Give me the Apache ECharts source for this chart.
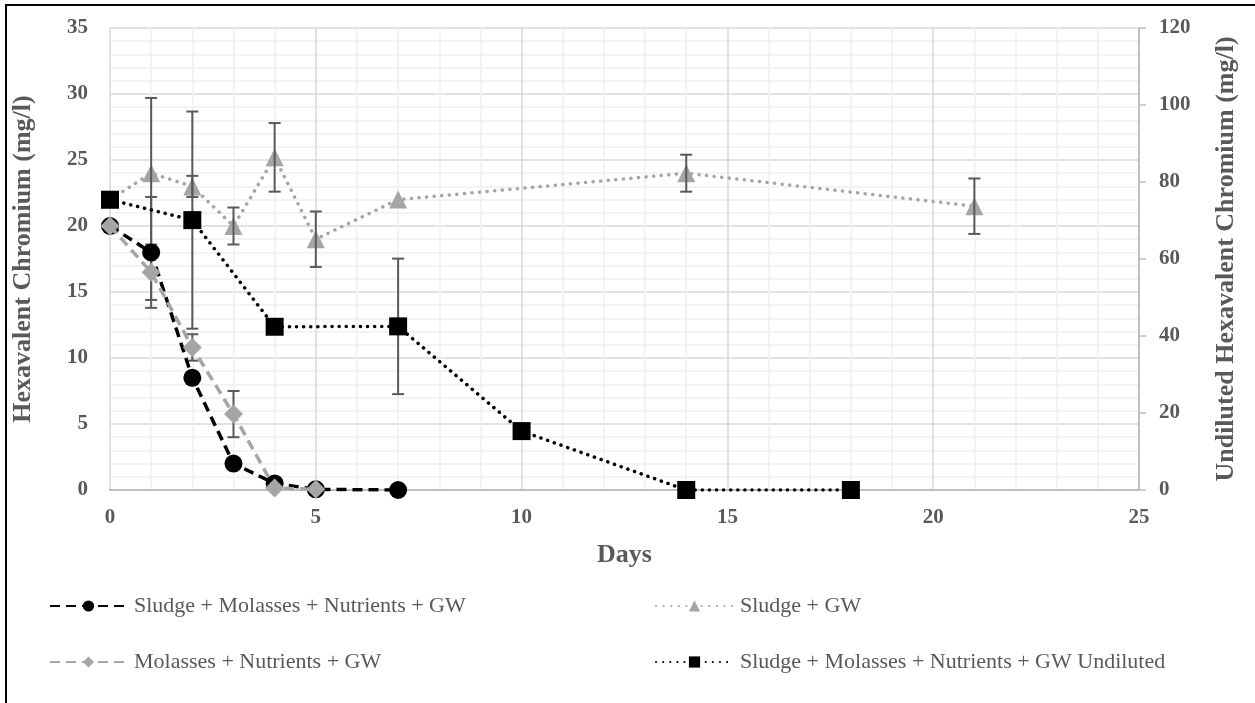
<!DOCTYPE html>
<html>
<head>
<meta charset="utf-8">
<script src="https://cdn.jsdelivr.net/npm/echarts@6/dist/echarts.min.js"></script>
<style>html,body{margin:0;padding:0;background:#fff}#c{width:1255px;height:703px}</style>
</head>
<body>
<div id="c"></div>
<script>
// ---- data ----
const seriesNames = [
  'Sludge + Molasses + Nutrients + GW',
  'Sludge + GW',
  'Molasses + Nutrients + GW',
  'Sludge + Molasses + Nutrients + GW Undiluted'
];
const daysCircle = [0, 1, 2, 3, 4, 5, 7];
const valsCircle = [20, 18, 8.5, 2, 0.5, 0.05, 0];
const errCircle  = [0, 4.2, 0, 0, 0, 0, 0];

const daysDiamond = [0, 1, 2, 3, 4, 5];
const valsDiamond = [20, 16.5, 10.8, 5.75, 0.15, 0.05];
const errDiamond  = [0, 2.1, 1.0, 1.75, 0, 0];

const daysTriangle = [0, 1, 2, 3, 4, 5, 7, 14, 21];
const valsTriangle = [22, 24, 23, 20, 25.2, 19, 22, 24, 21.5];
const errTriangle  = [0, 5.7, 0.8, 1.4, 2.6, 2.1, 0, 1.4, 2.1];

// undiluted series, right axis
const daysSquare = [0, 2, 4, 7, 10, 14, 18];
const valsSquare = [75.4, 70.1, 42.4, 42.5, 15.3, 0, 0];
const errSquare  = [0, 28.2, 0, 17.6, 0, 0, 0];

const xTicks = [0, 5, 10, 15, 20, 25];
const yLeftTicks = [0, 5, 10, 15, 20, 25, 30, 35];
const yRightTicks = [0, 20, 40, 60, 80, 100, 120];

// ---- helpers ----
const FONT = 'Liberation Serif';
const TXT = '#595959';
function pts(xs, ys) { return xs.map((d, i) => [d, ys[i]]); }
function errData(xs, ys, es) { return xs.map((d, i) => [d, ys[i], es[i]]); }
function errRender(params, api) {
  const x = api.value(0), y = api.value(1), e = api.value(2);
  if (!e) return null;
  const t = api.coord([x, y + e]);
  const b = api.coord([x, y - e]);
  const hw = 6;
  const st = { stroke: '#595959', lineWidth: 2 };
  return {
    type: 'group',
    children: [
      { type: 'line', shape: { x1: t[0], y1: t[1], x2: b[0], y2: b[1] }, style: st },
      { type: 'line', shape: { x1: t[0] - hw, y1: t[1], x2: t[0] + hw, y2: t[1] }, style: st },
      { type: 'line', shape: { x1: b[0] - hw, y1: b[1], x2: b[0] + hw, y2: b[1] }, style: st }
    ]
  };
}
function errSeries(data, yIdx, z) {
  return {
    type: 'custom', name: 'err', yAxisIndex: yIdx, z: z, silent: true,
    renderItem: errRender, data: data, encode: { x: 0, y: 1 }
  };
}
const legendCommon = {
  orient: 'horizontal', itemWidth: 77, itemHeight: 14, itemGap: 0,
  textStyle: { fontFamily: FONT, fontSize: 22, color: TXT, padding: [0, 0, 0, 2] },
  selectedMode: false
};
const tickFont = { fontFamily: FONT, fontSize: 21, fontWeight: 'bold', color: TXT };
const titleFont = { fontFamily: FONT, fontSize: 26, fontWeight: 'bold', color: TXT };

const chart = echarts.init(document.getElementById('c'), null, { renderer: 'canvas' });
chart.setOption({
  animation: false,
  backgroundColor: '#fff',
  graphic: [{
    type: 'rect', z: 100, silent: true,
    shape: { x: 6, y: 5, width: 1300, height: 800 },
    style: { fill: 'none', stroke: '#000', lineWidth: 2 }
  }],
  grid: { left: 110, right: 116, top: 28, bottom: 213 },
  legend: [
    Object.assign({ left: 44, top: 590, data: [seriesNames[0]] }, legendCommon),
    Object.assign({ left: 650, top: 590, data: [seriesNames[1]] }, legendCommon),
    Object.assign({ left: 44, top: 646, data: [seriesNames[2]] }, legendCommon),
    Object.assign({ left: 650, top: 646, data: [seriesNames[3]] }, legendCommon)
  ],
  xAxis: {
    type: 'value', min: xTicks[0], max: xTicks[xTicks.length - 1], interval: 5,
    name: 'Days', nameLocation: 'middle', nameGap: 52,
    nameTextStyle: titleFont,
    axisLine: { show: true, lineStyle: { color: '#bfbfbf', width: 2 } },
    axisTick: { show: false },
    axisLabel: Object.assign({ margin: 17 }, tickFont),
    splitLine: { show: true, lineStyle: { color: '#d9d9d9', width: 1.5 } },
    minorTick: { show: false, splitNumber: 5 },
    minorSplitLine: { show: true, lineStyle: { color: '#efefef', width: 1.5 } }
  },
  yAxis: [{
    type: 'value', min: yLeftTicks[0], max: yLeftTicks[yLeftTicks.length - 1], interval: 5,
    name: 'Hexavalent Chromium (mg/l)', nameLocation: 'middle', nameGap: 74,
    nameTextStyle: titleFont,
    axisLine: { show: false },
    axisTick: { show: false },
    axisLabel: Object.assign({ margin: 22 }, tickFont),
    splitLine: { show: true, lineStyle: { color: '#d9d9d9', width: 1.5 } },
    minorTick: { show: false, splitNumber: 5 },
    minorSplitLine: { show: true, lineStyle: { color: '#efefef', width: 1.5 } }
  }, {
    type: 'value', position: 'right', min: yRightTicks[0], max: yRightTicks[yRightTicks.length - 1], interval: 20,
    name: 'Undiluted Hexavalent Chromium (mg/l)', nameLocation: 'middle', nameGap: 74, nameRotate: 90,
    nameTextStyle: titleFont,
    axisLine: { show: true, lineStyle: { color: '#bfbfbf', width: 2 } },
    axisTick: { show: true, inside: false, length: 7, lineStyle: { color: '#bfbfbf', width: 1.5 } },
    axisLabel: Object.assign({ margin: 20 }, tickFont),
    splitLine: { show: false }
  }],
  series: [
    {
      name: seriesNames[1], type: 'line', yAxisIndex: 0, z: 2,
      data: pts(daysTriangle, valsTriangle),
      symbol: 'triangle', symbolSize: 18,
      itemStyle: { color: '#a5a5a5' },
      lineStyle: { color: '#a5a5a5', width: 3.5, type: [0.1, 7.5], cap: 'round' }
    },
    errSeries(errData(daysTriangle, valsTriangle, errTriangle), 0, 3),
    errSeries(errData(daysSquare, valsSquare, errSquare), 1, 3),
    {
      name: seriesNames[3], type: 'line', yAxisIndex: 1, z: 4,
      data: pts(daysSquare, valsSquare),
      symbol: 'rect', symbolSize: 18,
      itemStyle: { color: '#000' },
      lineStyle: { color: '#000', width: 3.5, type: [0.1, 7], cap: 'round' }
    },
    errSeries(errData(daysCircle, valsCircle, errCircle), 0, 4),
    errSeries(errData(daysDiamond, valsDiamond, errDiamond), 0, 4),
    {
      name: seriesNames[0], type: 'line', yAxisIndex: 0, z: 5,
      data: pts(daysCircle, valsCircle),
      symbol: 'circle', symbolSize: 18,
      itemStyle: { color: '#000' },
      lineStyle: { color: '#000', width: 3.5, type: [10, 6] }
    },
    {
      name: seriesNames[2], type: 'line', yAxisIndex: 0, z: 6,
      data: pts(daysDiamond, valsDiamond),
      symbol: 'diamond', symbolSize: 19,
      itemStyle: { color: '#a5a5a5' },
      lineStyle: { color: '#a5a5a5', width: 3.5, type: [10, 6] }
    }
  ]
});
</script>
</body>
</html>
